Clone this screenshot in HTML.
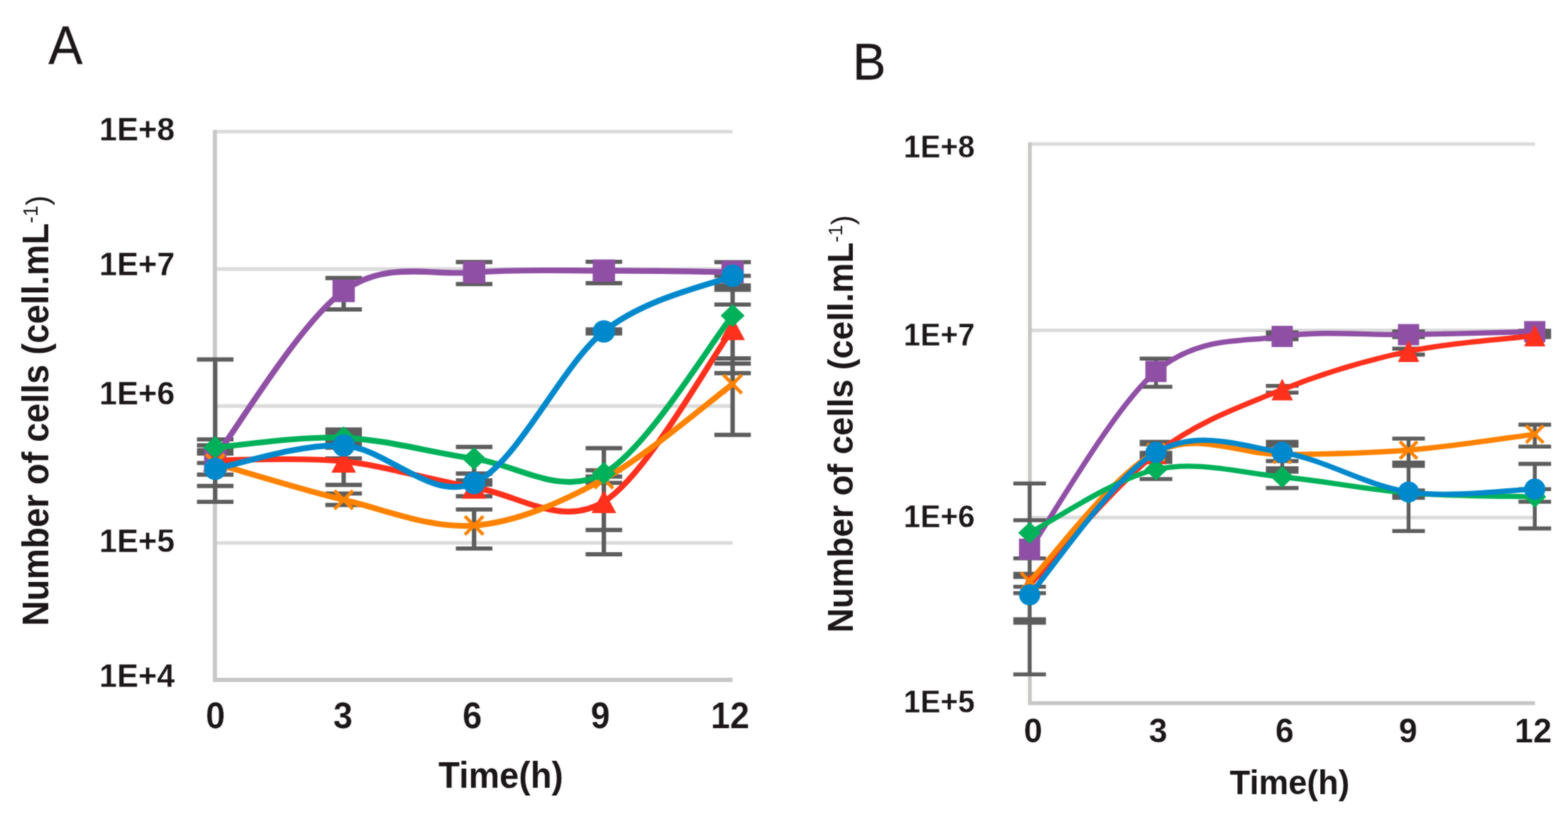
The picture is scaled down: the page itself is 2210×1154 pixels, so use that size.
<!DOCTYPE html>
<html lang="en">
<head>
<meta charset="utf-8">
<title>Number of cells over time</title>
<style>
html,body{margin:0;padding:0;background:#fff;}
body{width:2210px;height:1154px;overflow:hidden;font-family:"Liberation Sans",Arial,Helvetica,sans-serif;}
svg{display:block;}
svg text{font-kerning:normal;}
</style>
</head>
<body>
<svg width="2210" height="1154" viewBox="0 0 2210 1154" font-family="'Liberation Sans', Arial, Helvetica, sans-serif" fill="#1A1617">
<rect width="2210" height="1154" fill="#ffffff"/>
<defs><filter id="soft" x="0" y="0" width="2210" height="1154" filterUnits="userSpaceOnUse" color-interpolation-filters="sRGB"><feGaussianBlur in="SourceGraphic" stdDeviation="0.8" result="b"/><feComposite in="SourceGraphic" in2="b" operator="arithmetic" k1="0" k2="0.45" k3="0.55" k4="0"/></filter></defs>
<g filter="url(#soft)">
<rect width="2210" height="1154" fill="#ffffff"/>
<g id="panelA"><line x1="302.9" y1="185.5" x2="1032.5" y2="185.5" stroke="#DBDBDB" stroke-width="5.2"/>
<line x1="302.9" y1="379.2" x2="1032.5" y2="379.2" stroke="#DBDBDB" stroke-width="5.2"/>
<line x1="302.9" y1="572.2" x2="1032.5" y2="572.2" stroke="#DBDBDB" stroke-width="5.2"/>
<line x1="302.9" y1="765.0" x2="1032.5" y2="765.0" stroke="#DBDBDB" stroke-width="5.2"/>
<path d="M302.9 182.9 V958.0 H1032.5" stroke="#C7C7C5" stroke-width="5.8" fill="none" stroke-linejoin="miter"/>
<path d="M303.3 506.5V707.1" stroke="#5C5C5C" stroke-width="6.2" fill="none"/>
<path d="M277.6 506.5H329.1M277.6 619.1H329.1M277.6 627.5H329.1M277.6 634.5H329.1M277.6 639.0H329.1M277.6 652.4H329.1M277.6 668.7H329.1M277.6 684.8H329.1M277.6 707.1H329.1" stroke="#5C5C5C" stroke-width="5.9" fill="none"/>
<path d="M484.4 391.7V436.0M484.4 605.3V683.2M484.4 695.4V711.5" stroke="#5C5C5C" stroke-width="6.2" fill="none"/>
<path d="M458.6 391.7H510.1M458.6 436.0H510.1M458.6 605.3H510.1M458.6 609.5H510.1M458.6 614.0H510.1M458.6 618.5H510.1M458.6 623.0H510.1M458.6 627.0H510.1M458.6 630.8H510.1M458.6 645.9H510.1M458.6 683.2H510.1M458.6 695.4H510.1M458.6 711.5H510.1" stroke="#5C5C5C" stroke-width="5.9" fill="none"/>
<path d="M668.2 369.4V400.6M668.2 629.7V698.9M668.2 717.9V772.9" stroke="#5C5C5C" stroke-width="6.2" fill="none"/>
<path d="M642.5 369.2H694.0M642.5 400.2H694.0M642.5 629.7H694.0M642.5 667.2H694.0M642.5 677.0H694.0M642.5 682.8H694.0M642.5 699.3H694.0M642.5 717.9H694.0M642.5 772.9H694.0" stroke="#5C5C5C" stroke-width="5.9" fill="none"/>
<path d="M851.1 368.9V399.0M851.1 464.3V469.7M851.1 631.5V781.0" stroke="#5C5C5C" stroke-width="6.2" fill="none"/>
<path d="M825.4 368.9H876.9M825.4 399.0H876.9M825.4 464.3H876.9M825.4 469.7H876.9M825.4 631.5H876.9M825.4 662.6H876.9M825.4 671.5H876.9M825.4 680.4H876.9M825.4 746.8H876.9M825.4 781.0H876.9" stroke="#5C5C5C" stroke-width="5.9" fill="none"/>
<path d="M1032.6 369.4V612.7" stroke="#5C5C5C" stroke-width="6.2" fill="none"/>
<path d="M1006.8 369.4H1058.3M1006.8 388.6H1058.3M1006.8 402.3H1058.3M1006.8 408.3H1058.3M1006.8 429.1H1058.3M1006.8 505.0H1058.3M1006.8 512.2H1058.3M1006.8 525.7H1058.3M1006.8 612.7H1058.3" stroke="#5C5C5C" stroke-width="5.9" fill="none"/>
<path d="M303.3 644.0 C333.5 605.0 423.6 453.4 484.4 410.0 C545.2 366.6 607.1 388.7 668.2 383.9 C729.3 379.1 790.4 381.5 851.1 381.4 C911.8 381.3 1002.3 383.1 1032.6 383.4" stroke="#8F4FA5" stroke-width="8.2" fill="none" stroke-linecap="round" stroke-linejoin="round"/>
<rect x="287.6" y="628.2" width="31.5" height="31.5" fill="#8F4FA5"/>
<rect x="468.6" y="394.2" width="31.5" height="31.5" fill="#8F4FA5"/>
<rect x="652.5" y="368.1" width="31.5" height="31.5" fill="#8F4FA5"/>
<rect x="835.4" y="365.6" width="31.5" height="31.5" fill="#8F4FA5"/>
<rect x="1016.8" y="367.6" width="31.5" height="31.5" fill="#8F4FA5"/>
<path d="M303.3 648.5 C333.5 648.8 423.6 643.6 484.4 650.0 C545.2 656.4 607.1 677.1 668.2 686.6 C729.3 696.1 790.4 744.2 851.1 707.0 C911.8 669.8 1002.3 503.9 1032.6 463.3" stroke="#FF301C" stroke-width="8.2" fill="none" stroke-linecap="round" stroke-linejoin="round"/>
<path d="M303.3 633.2 L319.9 664.0 L286.7 664.0 Z" fill="#FF301C" stroke="#FF301C" stroke-width="1" stroke-linejoin="round"/>
<path d="M484.4 634.8 L501.0 665.5 L467.8 665.5 Z" fill="#FF301C" stroke="#FF301C" stroke-width="1" stroke-linejoin="round"/>
<path d="M668.2 671.4 L684.9 702.1 L651.6 702.1 Z" fill="#FF301C" stroke="#FF301C" stroke-width="1" stroke-linejoin="round"/>
<path d="M851.1 691.8 L867.8 722.5 L834.5 722.5 Z" fill="#FF301C" stroke="#FF301C" stroke-width="1" stroke-linejoin="round"/>
<path d="M1032.6 448.1 L1049.2 478.8 L1015.9 478.8 Z" fill="#FF301C" stroke="#FF301C" stroke-width="1" stroke-linejoin="round"/>
<path d="M303.3 653.0 C333.5 661.5 423.6 689.6 484.4 704.2 C545.2 718.8 607.1 745.3 668.2 740.4 C729.3 735.5 790.4 708.2 851.1 675.0 C911.8 641.8 1002.3 563.6 1032.6 541.3" stroke="#FF8200" stroke-width="8.2" fill="none" stroke-linecap="round" stroke-linejoin="round"/>
<path d="M290.4 640.0 L316.2 666.0 M290.4 666.0 L316.2 640.0" stroke="#FF8200" stroke-width="4.8" fill="none"/>
<path d="M471.4 691.2 L497.3 717.2 M471.4 717.2 L497.3 691.2" stroke="#FF8200" stroke-width="4.8" fill="none"/>
<path d="M655.2 727.4 L681.2 753.4 M655.2 753.4 L681.2 727.4" stroke="#FF8200" stroke-width="4.8" fill="none"/>
<path d="M838.1 662.0 L864.1 688.0 M838.1 688.0 L864.1 662.0" stroke="#FF8200" stroke-width="4.8" fill="none"/>
<path d="M1019.6 528.3 L1045.5 554.2 M1019.6 554.2 L1045.5 528.3" stroke="#FF8200" stroke-width="4.8" fill="none"/>
<path d="M303.3 630.5 C333.5 628.2 423.6 614.2 484.4 616.8 C545.2 619.4 607.1 637.8 668.2 646.2 C729.3 654.6 790.4 700.6 851.1 667.0 C911.8 633.4 1002.3 481.8 1032.6 444.7" stroke="#00B159" stroke-width="8.2" fill="none" stroke-linecap="round" stroke-linejoin="round"/>
<path d="M303.3 614.5 L320.2 630.5 L303.3 646.5 L286.4 630.5 Z" fill="#00B159"/>
<path d="M484.4 600.8 L501.3 616.8 L484.4 632.8 L467.4 616.8 Z" fill="#00B159"/>
<path d="M668.2 630.2 L685.2 646.2 L668.2 662.2 L651.2 646.2 Z" fill="#00B159"/>
<path d="M851.1 651.0 L868.1 667.0 L851.1 683.0 L834.1 667.0 Z" fill="#00B159"/>
<path d="M1032.6 428.6 L1049.5 444.7 L1032.6 460.8 L1015.6 444.7 Z" fill="#00B159"/>
<path d="M303.3 660.5 C333.5 655.0 423.6 624.4 484.4 627.8 C545.2 631.1 607.1 707.4 668.2 680.6 C729.3 653.8 790.4 515.7 851.1 467.0 C911.8 418.3 1002.3 401.7 1032.6 388.6" stroke="#0088CC" stroke-width="8.2" fill="none" stroke-linecap="round" stroke-linejoin="round"/>
<circle cx="303.3" cy="660.5" r="15.8" fill="#0088CC"/>
<circle cx="484.4" cy="627.8" r="15.8" fill="#0088CC"/>
<circle cx="668.2" cy="680.6" r="15.8" fill="#0088CC"/>
<circle cx="851.1" cy="467.0" r="15.8" fill="#0088CC"/>
<circle cx="1032.6" cy="388.6" r="15.8" fill="#0088CC"/>
<text transform="translate(246.2 198.4) scale(1 1.040)" font-size="45.0" font-weight="bold" text-anchor="end" stroke="#ffffff" stroke-width="0.25" stroke-linejoin="round">1E+8</text>
<text transform="translate(246.2 388.4) scale(1 1.040)" font-size="45.0" font-weight="bold" text-anchor="end" stroke="#ffffff" stroke-width="0.25" stroke-linejoin="round">1E+7</text>
<text transform="translate(246.2 570.4) scale(1 1.040)" font-size="45.0" font-weight="bold" text-anchor="end" stroke="#ffffff" stroke-width="0.25" stroke-linejoin="round">1E+6</text>
<text transform="translate(246.2 778.3) scale(1 1.040)" font-size="45.0" font-weight="bold" text-anchor="end" stroke="#ffffff" stroke-width="0.25" stroke-linejoin="round">1E+5</text>
<text transform="translate(246.2 968.2) scale(1 1.040)" font-size="45.0" font-weight="bold" text-anchor="end" stroke="#ffffff" stroke-width="0.25" stroke-linejoin="round">1E+4</text>
<text transform="translate(303.6 1025.7) scale(1 1.040)" font-size="49.0" font-weight="bold" text-anchor="middle" stroke="#ffffff" stroke-width="0.20" stroke-linejoin="round">0</text>
<text transform="translate(483.4 1025.7) scale(1 1.040)" font-size="49.0" font-weight="bold" text-anchor="middle" stroke="#ffffff" stroke-width="0.20" stroke-linejoin="round">3</text>
<text transform="translate(665.5 1025.7) scale(1 1.040)" font-size="49.0" font-weight="bold" text-anchor="middle" stroke="#ffffff" stroke-width="0.20" stroke-linejoin="round">6</text>
<text transform="translate(846.2 1025.7) scale(1 1.040)" font-size="49.0" font-weight="bold" text-anchor="middle" stroke="#ffffff" stroke-width="0.20" stroke-linejoin="round">9</text>
<text transform="translate(1029.0 1025.7) scale(1 1.040)" font-size="49.0" font-weight="bold" text-anchor="middle" stroke="#ffffff" stroke-width="0.20" stroke-linejoin="round">12</text>
<text transform="translate(705.9 1110.3) scale(1 1.040)" font-size="49.0" font-weight="bold" text-anchor="middle">Time(h)</text>
<text transform="translate(68.2 882.0) rotate(-90) scale(1 1.040)" font-size="49.1" font-weight="bold" text-anchor="start">Number of cells (cell.mL<tspan font-size="28.2" dy="-14.7" font-weight="normal" stroke="none">-1</tspan><tspan dy="14.7" font-weight="normal" font-size="42.7" stroke="none">)</tspan></text>
<text transform="translate(68.2 89.5) scale(1 1.040)" font-size="72.2" font-weight="normal" text-anchor="start" stroke="#1A1617" stroke-width="0.30" stroke-linejoin="round">A</text></g>
<g id="panelB"><line x1="1451.5" y1="203.0" x2="2163.5" y2="203.0" stroke="#DBDBDB" stroke-width="5.0"/>
<line x1="1451.5" y1="465.5" x2="2163.5" y2="465.5" stroke="#DBDBDB" stroke-width="5.0"/>
<line x1="1451.5" y1="729.3" x2="2163.5" y2="729.3" stroke="#DBDBDB" stroke-width="5.0"/>
<path d="M1451.5 200.5 V990.7 H2163.5" stroke="#C7C7C5" stroke-width="5.4" fill="none" stroke-linejoin="miter"/>
<path d="M1451.2 681.2V950.2" stroke="#5C5C5C" stroke-width="5.4" fill="none"/>
<path d="M1428.2 681.2H1474.2M1428.2 733.0H1474.2M1428.2 786.8H1474.2M1428.2 808.5H1474.2M1428.2 813.0H1474.2M1428.2 826.8H1474.2M1428.2 835.7H1474.2M1428.2 872.5H1474.2M1428.2 877.5H1474.2M1428.2 950.2H1474.2" stroke="#5C5C5C" stroke-width="5.6" fill="none"/>
<path d="M1629.3 505.2V545.0M1629.3 622.5V675.0" stroke="#5C5C5C" stroke-width="5.4" fill="none"/>
<path d="M1606.3 505.2H1652.3M1606.3 545.0H1652.3M1606.3 622.5H1652.3M1606.3 626.0H1652.3M1606.3 638.0H1652.3M1606.3 642.5H1652.3M1606.3 647.0H1652.3M1606.3 651.0H1652.3M1606.3 675.0H1652.3" stroke="#5C5C5C" stroke-width="5.6" fill="none"/>
<path d="M1807.2 468.4V478.0M1807.2 543.7V553.3M1807.2 622.5V687.6" stroke="#5C5C5C" stroke-width="5.4" fill="none"/>
<path d="M1784.2 468.4H1830.2M1784.2 473.0H1830.2M1784.2 478.0H1830.2M1784.2 543.7H1830.2M1784.2 553.3H1830.2M1784.2 622.5H1830.2M1784.2 628.0H1830.2M1784.2 649.6H1830.2M1784.2 659.8H1830.2M1784.2 664.8H1830.2M1784.2 687.6H1830.2" stroke="#5C5C5C" stroke-width="5.6" fill="none"/>
<path d="M1985.3 467.0V475.0M1985.3 491.2V499.6M1985.3 618.0V748.3" stroke="#5C5C5C" stroke-width="5.4" fill="none"/>
<path d="M1962.3 467.0H2008.3M1962.3 471.0H2008.3M1962.3 475.0H2008.3M1962.3 491.2H2008.3M1962.3 499.6H2008.3M1962.3 618.0H2008.3M1962.3 651.8H2008.3M1962.3 656.4H2008.3M1962.3 691.0H2008.3M1962.3 696.0H2008.3M1962.3 701.5H2008.3M1962.3 748.3H2008.3" stroke="#5C5C5C" stroke-width="5.6" fill="none"/>
<path d="M2163.2 466.0V475.0M2163.2 598.4V629.2M2163.2 653.6V744.6" stroke="#5C5C5C" stroke-width="5.4" fill="none"/>
<path d="M2140.2 466.0H2186.2M2140.2 470.5H2186.2M2140.2 475.0H2186.2M2140.2 598.4H2186.2M2140.2 629.2H2186.2M2140.2 653.6H2186.2M2140.2 689.2H2186.2M2140.2 707.0H2186.2M2140.2 744.6H2186.2" stroke="#5C5C5C" stroke-width="5.6" fill="none"/>
<path d="M1451.2 774.0 C1480.9 732.2 1570.0 573.4 1629.3 523.4 C1688.6 473.4 1747.9 482.6 1807.2 474.0 C1866.5 465.4 1926.0 472.6 1985.3 471.5 C2044.6 470.4 2133.5 468.0 2163.2 467.3" stroke="#8F4FA5" stroke-width="7.4" fill="none" stroke-linecap="round" stroke-linejoin="round"/>
<rect x="1436.2" y="759.0" width="29.9" height="29.9" fill="#8F4FA5"/>
<rect x="1614.3" y="508.4" width="29.9" height="29.9" fill="#8F4FA5"/>
<rect x="1792.2" y="459.1" width="29.9" height="29.9" fill="#8F4FA5"/>
<rect x="1970.3" y="456.6" width="29.9" height="29.9" fill="#8F4FA5"/>
<rect x="2148.2" y="452.4" width="29.9" height="29.9" fill="#8F4FA5"/>
<path d="M1451.2 824.0 C1480.9 793.2 1570.0 684.8 1629.3 639.0 C1688.6 593.2 1747.9 573.0 1807.2 549.0 C1866.5 525.0 1926.0 507.7 1985.3 495.0 C2044.6 482.3 2133.5 476.7 2163.2 473.0" stroke="#FF301C" stroke-width="7.4" fill="none" stroke-linecap="round" stroke-linejoin="round"/>
<path d="M1451.2 809.5 L1465.6 838.7 L1436.8 838.7 Z" fill="#FF301C" stroke="#FF301C" stroke-width="1" stroke-linejoin="round"/>
<path d="M1629.3 624.5 L1643.7 653.7 L1614.9 653.7 Z" fill="#FF301C" stroke="#FF301C" stroke-width="1" stroke-linejoin="round"/>
<path d="M1807.2 534.5 L1821.6 563.7 L1792.8 563.7 Z" fill="#FF301C" stroke="#FF301C" stroke-width="1" stroke-linejoin="round"/>
<path d="M1985.3 480.6 L1999.7 509.6 L1970.9 509.6 Z" fill="#FF301C" stroke="#FF301C" stroke-width="1" stroke-linejoin="round"/>
<path d="M2163.2 458.6 L2177.5 487.6 L2148.8 487.6 Z" fill="#FF301C" stroke="#FF301C" stroke-width="1" stroke-linejoin="round"/>
<path d="M1451.2 819.0 C1480.9 788.7 1570.0 666.8 1629.3 637.0 C1688.6 607.2 1747.9 641.0 1807.2 640.5 C1866.5 640.0 1926.0 639.1 1985.3 634.3 C2044.6 629.5 2133.5 615.5 2163.2 611.8" stroke="#FF8200" stroke-width="7.4" fill="none" stroke-linecap="round" stroke-linejoin="round"/>
<path d="M1439.0 806.9 L1463.4 831.1 M1439.0 831.1 L1463.4 806.9" stroke="#FF8200" stroke-width="4.8" fill="none"/>
<path d="M1617.1 624.9 L1641.5 649.1 M1617.1 649.1 L1641.5 624.9" stroke="#FF8200" stroke-width="4.8" fill="none"/>
<path d="M1795.0 628.4 L1819.4 652.6 M1795.0 652.6 L1819.4 628.4" stroke="#FF8200" stroke-width="4.8" fill="none"/>
<path d="M1973.1 622.1 L1997.5 646.4 M1973.1 646.4 L1997.5 622.1" stroke="#FF8200" stroke-width="4.8" fill="none"/>
<path d="M2151.0 599.6 L2175.3 623.9 M2151.0 623.9 L2175.3 599.6" stroke="#FF8200" stroke-width="4.8" fill="none"/>
<path d="M1451.2 750.8 C1480.9 735.9 1570.0 674.6 1629.3 661.5 C1688.6 648.4 1747.9 666.5 1807.2 672.0 C1866.5 677.5 1926.0 689.8 1985.3 694.5 C2044.6 699.2 2133.5 699.1 2163.2 700.0" stroke="#00B159" stroke-width="7.4" fill="none" stroke-linecap="round" stroke-linejoin="round"/>
<path d="M1451.2 735.5 L1467.4 750.8 L1451.2 766.0 L1435.0 750.8 Z" fill="#00B159"/>
<path d="M1629.3 646.2 L1645.5 661.5 L1629.3 676.8 L1613.1 661.5 Z" fill="#00B159"/>
<path d="M1807.2 656.8 L1823.4 672.0 L1807.2 687.2 L1791.0 672.0 Z" fill="#00B159"/>
<path d="M1985.3 679.2 L2001.5 694.5 L1985.3 709.8 L1969.1 694.5 Z" fill="#00B159"/>
<path d="M2163.2 684.8 L2179.3 700.0 L2163.2 715.2 L2147.1 700.0 Z" fill="#00B159"/>
<path d="M1451.2 838.2 C1480.9 804.8 1570.0 671.0 1629.3 637.5 C1688.6 604.0 1747.9 628.2 1807.2 637.5 C1866.5 646.8 1926.0 684.7 1985.3 693.3 C2044.6 701.9 2133.5 689.9 2163.2 689.2" stroke="#0088CC" stroke-width="7.4" fill="none" stroke-linecap="round" stroke-linejoin="round"/>
<circle cx="1451.2" cy="838.2" r="14.9" fill="#0088CC"/>
<circle cx="1629.3" cy="637.5" r="14.9" fill="#0088CC"/>
<circle cx="1807.2" cy="637.5" r="14.9" fill="#0088CC"/>
<circle cx="1985.3" cy="693.3" r="14.9" fill="#0088CC"/>
<circle cx="2163.2" cy="689.2" r="14.9" fill="#0088CC"/>
<text transform="translate(1374.0 222.0) scale(1 1.040)" font-size="42.5" font-weight="bold" text-anchor="end" stroke="#ffffff" stroke-width="0.25" stroke-linejoin="round">1E+8</text>
<text transform="translate(1374.0 487.0) scale(1 1.040)" font-size="42.5" font-weight="bold" text-anchor="end" stroke="#ffffff" stroke-width="0.25" stroke-linejoin="round">1E+7</text>
<text transform="translate(1374.0 742.5) scale(1 1.040)" font-size="42.5" font-weight="bold" text-anchor="end" stroke="#ffffff" stroke-width="0.25" stroke-linejoin="round">1E+6</text>
<text transform="translate(1374.0 1003.5) scale(1 1.040)" font-size="42.5" font-weight="bold" text-anchor="end" stroke="#ffffff" stroke-width="0.25" stroke-linejoin="round">1E+5</text>
<text transform="translate(1456.0 1046.0) scale(1 1.040)" font-size="47.0" font-weight="bold" text-anchor="middle" stroke="#ffffff" stroke-width="0.20" stroke-linejoin="round">0</text>
<text transform="translate(1632.4 1046.0) scale(1 1.040)" font-size="47.0" font-weight="bold" text-anchor="middle" stroke="#ffffff" stroke-width="0.20" stroke-linejoin="round">3</text>
<text transform="translate(1810.5 1046.0) scale(1 1.040)" font-size="47.0" font-weight="bold" text-anchor="middle" stroke="#ffffff" stroke-width="0.20" stroke-linejoin="round">6</text>
<text transform="translate(1984.5 1046.0) scale(1 1.040)" font-size="47.0" font-weight="bold" text-anchor="middle" stroke="#ffffff" stroke-width="0.20" stroke-linejoin="round">9</text>
<text transform="translate(2161.0 1046.0) scale(1 1.040)" font-size="47.0" font-weight="bold" text-anchor="middle" stroke="#ffffff" stroke-width="0.20" stroke-linejoin="round">12</text>
<text transform="translate(1817.7 1118.5) scale(1 1.040)" font-size="47.0" font-weight="bold" text-anchor="middle">Time(h)</text>
<text transform="translate(1201.5 891.5) rotate(-90) scale(1 1.040)" font-size="47.6" font-weight="bold" text-anchor="start">Number of cells (cell.mL<tspan font-size="27.4" dy="-14.3" font-weight="normal" stroke="none">-1</tspan><tspan dy="14.3" font-weight="normal" font-size="41.4" stroke="none">)</tspan></text>
<text transform="translate(1201.8 112.3) scale(1 1.040)" font-size="70.3" font-weight="normal" text-anchor="start" stroke="#1A1617" stroke-width="0.30" stroke-linejoin="round">B</text></g>
</g>
</svg>
</body>
</html>
